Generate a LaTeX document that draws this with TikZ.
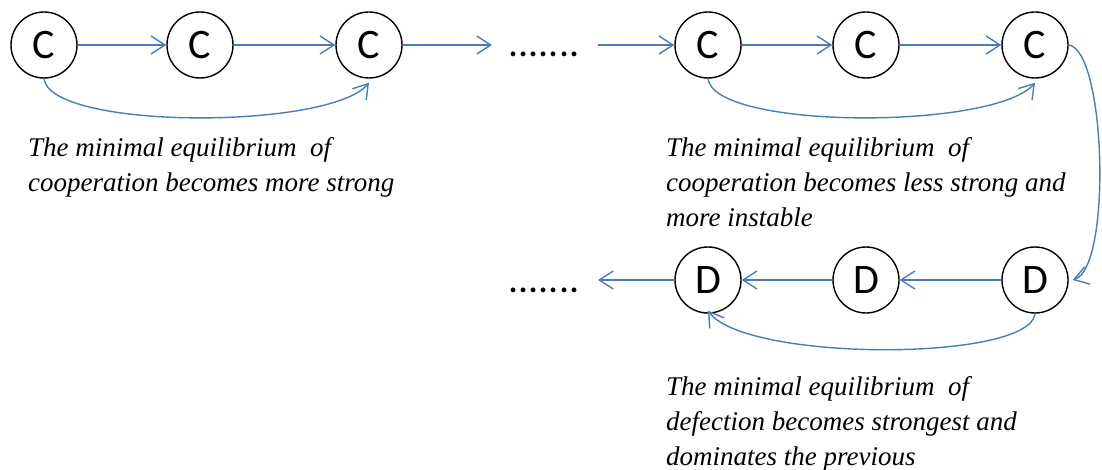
\documentclass[tikz,border=0pt]{standalone}
\usepackage{fontspec}
\setmainfont{Liberation Serif}
\newfontfamily\labelfont{Carlito}
\usetikzlibrary{arrows.meta}
\definecolor{linkblue}{HTML}{4A7EBB}
\tikzset{
  state/.style={circle, draw=black, line width=1.4pt, minimum size=66pt, inner sep=0pt,
    font=\labelfont\fontsize{42}{42}\selectfont},
  link/.style={draw=linkblue, line width=1.4pt, -{Straight Barb[length=14pt,width=18pt]}},
  dots/.style={anchor=base, inner sep=0pt, font=\labelfont\fontsize{40}{40}\selectfont},
  note/.style={anchor=base west, inner sep=0pt, align=left,
    font=\itshape\fontsize{27}{35}\selectfont}
}
\begin{document}
\begin{tikzpicture}[x=1pt, y=-1pt]
  \useasboundingbox (0,0) rectangle (1102,470);

  % cooperation chain
  \node[state] (c1) at (44,45) {C};
  \node[state] (c2) at (200,45) {C};
  \node[state] (c3) at (369,45) {C};
  \node[state] (c4) at (708,45) {C};
  \node[state] (c5) at (866,45) {C};
  \node[state] (c6) at (1035,45) {C};

  % defection chain
  \node[state] (d1) at (708,280) {D};
  \node[state] (d2) at (866,280) {D};
  \node[state] (d3) at (1035,280) {D};

  \node[dots] (dtop) at (544,57) {.......};
  \node[dots] (dbot) at (544,292) {.......};

  \coordinate (gapin) at (492,45);
  \coordinate (gapout) at (598,45);
  \coordinate (tail) at (598,280);

  % straight links
  \draw[link] (c1) -- (c2);
  \draw[link] (c2) -- (c3);
  \draw[link] (c3) -- (gapin);
  \draw[link] (gapout) -- (c4);
  \draw[link] (c4) -- (c5);
  \draw[link] (c5) -- (c6);
  \draw[link] (d3) -- (d2);
  \draw[link] (d2) -- (d1);
  \draw[link] (d1) -- (tail);

  % curved links
  \draw[link] (c1.south) .. controls (50,130) and (330,130) .. ([yshift=-4pt]c3.south);
  \draw[link] (c4.south) .. controls (714,130) and (995,130) .. ([yshift=-4pt]c6.south);
  \draw[link] (c6.east) .. controls (1106,50) and (1112,268) .. ([xshift=4pt]d3.east);
  \draw[link] (d3.south) .. controls (1030,362) and (745,362) .. ([yshift=3pt]d1.south);

  % notes (anchored at the baseline of their last line)
  \node[note] (n1) at (28,192) {The minimal equilibrium\ \ of\\cooperation becomes more strong};
  \node[note] (n2) at (666,227) {The minimal equilibrium\ \ of\\cooperation becomes less strong and\\more instable};
  \node[note] (n3) at (666,465) {The minimal equilibrium\ \ of\\defection becomes strongest\ and\\dominates the previous};
\end{tikzpicture}
\end{document}
